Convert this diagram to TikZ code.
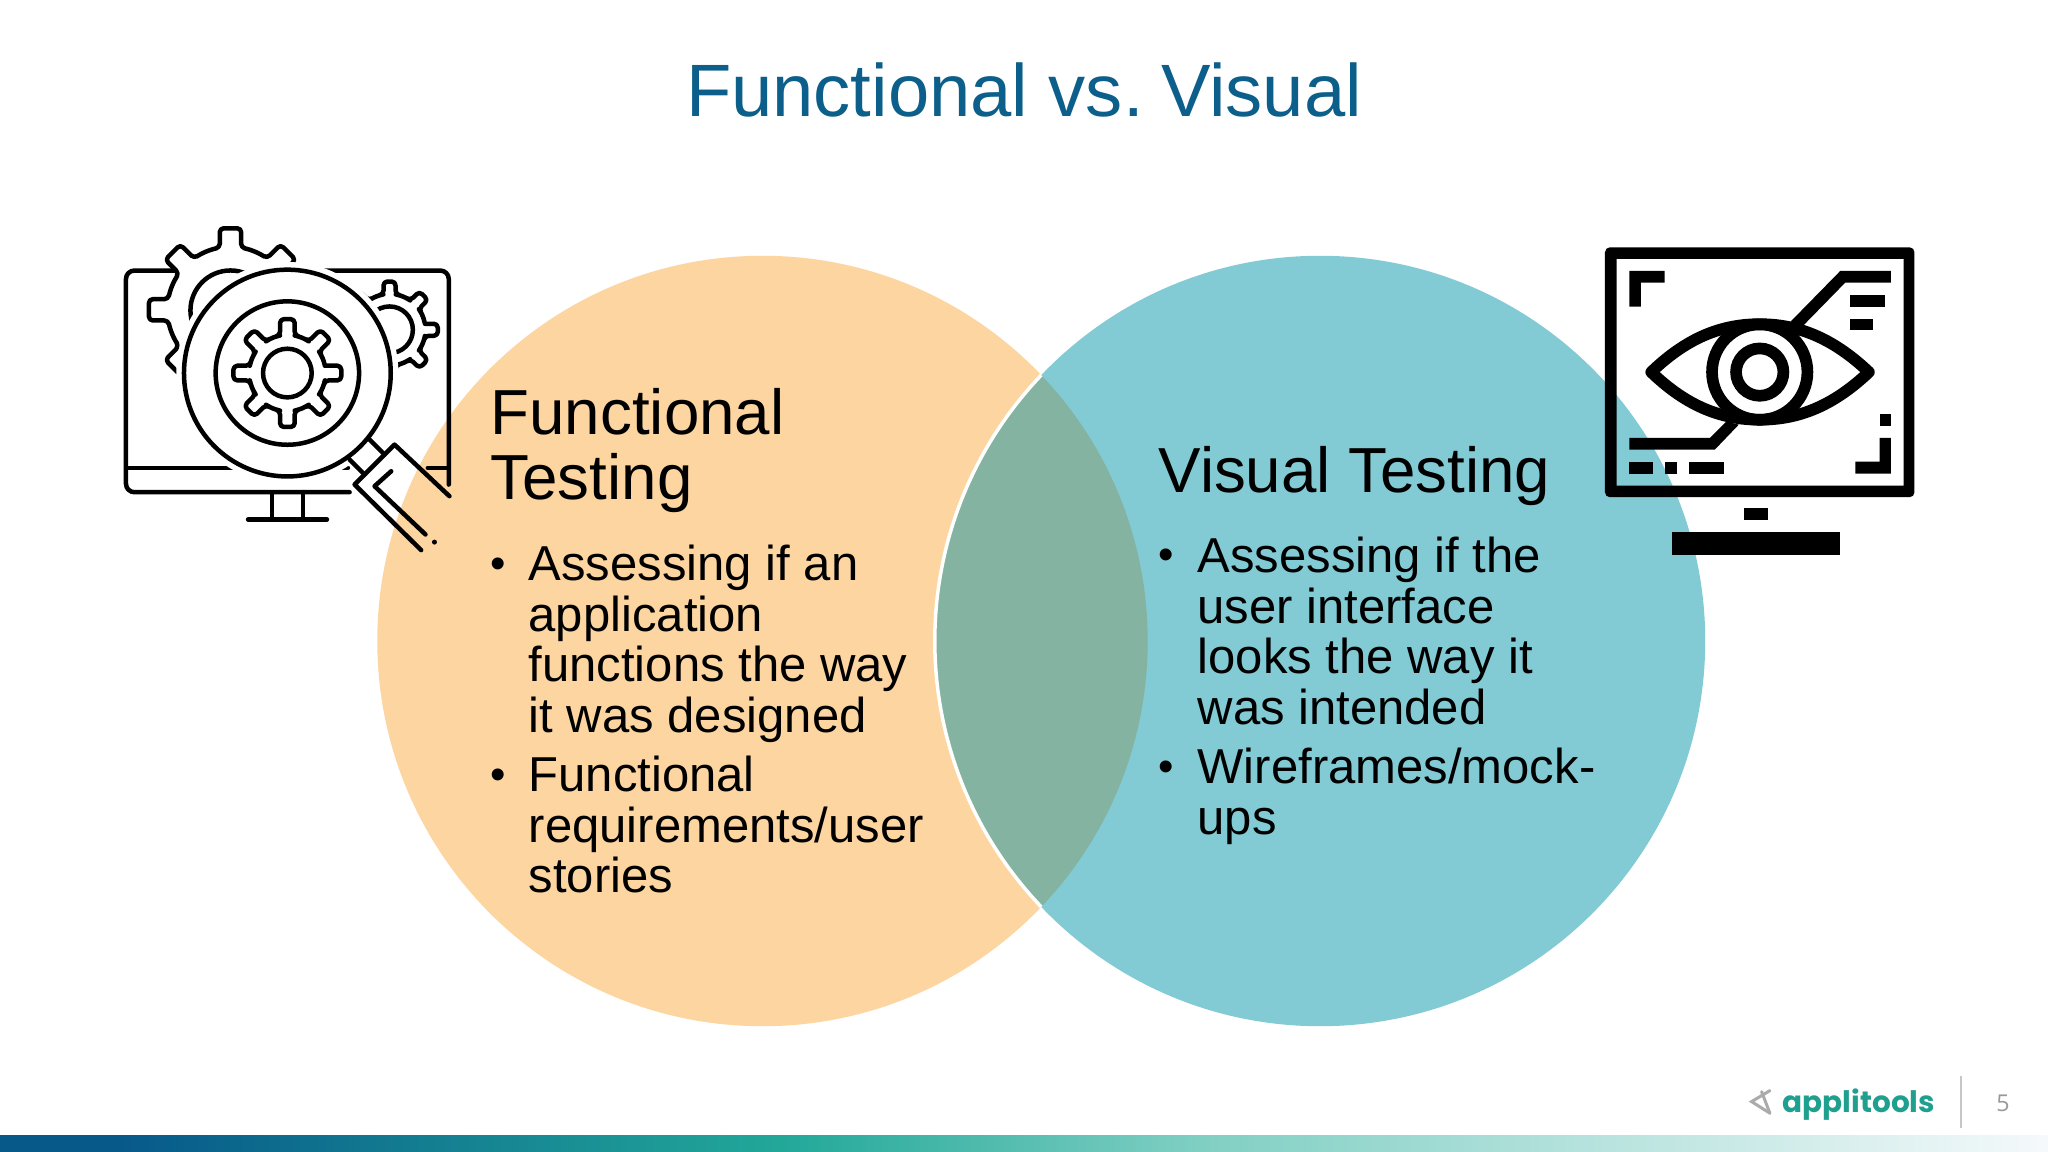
\documentclass[tikz,border=0pt]{standalone}
\usepackage{fontspec}
\setmainfont{Liberation Sans}
\newfontfamily\logofont{Poppins}
\newfontfamily\numfont{Open Sans}
\definecolor{titleblue}{HTML}{0B5F8A}
\definecolor{orangefill}{HTML}{FDD5A0}
\definecolor{tealfill}{HTML}{82CAD4}
\definecolor{overlapfill}{HTML}{84B4A1}
\definecolor{logoteal}{HTML}{1FA08F}
\definecolor{logogray}{HTML}{ABABAB}
\definecolor{bardark}{HTML}{07598A}
\definecolor{barteal}{HTML}{22A899}
\definecolor{barlight}{HTML}{80CFC3}
\definecolor{barend}{HTML}{F5F9FB}
\tikzset{
  declare function={gx(\c,\u,\v,\a)=\c+\u*cos(\a)-\v*sin(\a); gy(\c,\u,\v,\a)=\c+\u*sin(\a)+\v*cos(\a);},
  titletext/.style={font=\fontsize{21.1}{25}\selectfont,text=titleblue,inner sep=0pt},
  headtext/.style={font=\fontsize{18.1}{18.5}\selectfont,align=left,inner sep=0pt,anchor=north west,text=black},
  bodytext/.style={font=\fontsize{13.94}{14.45}\selectfont,align=left,inner sep=0pt,anchor=north west,text=black},
  dottext/.style={font=\fontsize{12.5}{13}\selectfont,inner sep=0pt,anchor=base,text=black},
  iconline/.style={line width=0.045cm,line cap=round,line join=round,draw=black},
  eyeline/.style={line width=0.1167cm,draw=black},
  zoomA/.style={shift={(100,200)},x=0.0033333cm,y=-0.0033333cm},
  zoomB/.style={shift={(1590,230)},x=0.0033333cm,y=-0.0033333cm},
  zoomC/.style={shift={(1700,1050)},x=0.0033333cm,y=-0.0033333cm},
}
% centre x, centre y, tooth radius, body radius, tooth half width
\newcommand{\gearshape}[5]{%
  \pgfmathsetmacro{\gub}{#4*sqrt(1-(#5/#4)*(#5/#4))}%
  \pgfmathsetmacro{\gth}{asin(#5/#4)}%
  \draw[iconline,fill=white,rounded corners=1.1pt]
    ({gx(#1,\gub,-#5,0)},{gy(#2,\gub,-#5,0)})
    \foreach \a in {0,45,...,315}{
      -- ({gx(#1,#3,-#5,\a)},{gy(#2,#3,-#5,\a)})
      -- ({gx(#1,#3,#5,\a)},{gy(#2,#3,#5,\a)})
      -- ({gx(#1,\gub,#5,\a)},{gy(#2,\gub,#5,\a)})
      \foreach \f in {0.25,0.5,0.75}{
        -- ({#1+#4*cos(\a+\gth+\f*(45-2*\gth))},{#2+#4*sin(\a+\gth+\f*(45-2*\gth))})
      }
      -- ({gx(#1,\gub,-#5,\a+45)},{gy(#2,\gub,-#5,\a+45)})
    };%
}
\begin{document}
\begin{tikzpicture}[x=0.01cm,y=-0.01cm]
\useasboundingbox (0,0) rectangle (2048,1152);
\fill[white] (0,0) rectangle (2048,1152);

% Venn circles
\fill[orangefill] (762.5,641) circle[radius=3.85cm];
\fill[tealfill] (1320,641) circle[radius=3.85cm];
\begin{scope}
  \clip (762.5,641) circle[radius=3.85cm];
  \fill[overlapfill] (1320,641) circle[radius=3.85cm];
  \draw[white,line width=0.035cm] (1320,641) circle[radius=3.85cm];
\end{scope}

% Title
\node[titletext] (title) at (1024,90) {Functional vs.\kern-0.9pt\ Visual};

% Left text
\node[headtext] (fhead) at (490,388) {Functional\\Testing};
\node[dottext] (fdota) at (498,578) {•};
\node[bodytext] (fbodya) at (528,544) {Assessing if an\\application\\functions the way\\it was designed};
\node[dottext] (fdotb) at (498,789) {•};
\node[bodytext] (fbodyb) at (528,755) {Functional\\requirements/user\\stories};

% Right text
\node[headtext] (vhead) at (1158,446) {Visual Testing};
\node[dottext] (vdota) at (1166,570) {•};
\node[bodytext] (vbodya) at (1197,536) {Assessing if the\\user interface\\looks the way it\\was intended};
\node[dottext] (vdotb) at (1166,781) {•};
\node[bodytext] (vbodyb) at (1197,747) {Wireframes/mock-\\ups};

% Left icon
\begin{scope}[zoomA]
  \draw[iconline,rounded corners=2.4pt] (750,878) -- (78,878) -- (78,212) -- (1048,212) -- (1048,855);
  \draw[iconline] (85,805) -- (745,805);
  \draw[iconline] (985,805) -- (1040,805);
  \draw[iconline] (517,880) -- (517,960);
  \draw[iconline] (610,880) -- (610,960);
  \draw[iconline] (445,960) -- (682,960);
  \gearshape{870}{390}{145}{108}{18}
  \draw[iconline] (870,390) circle[radius=0.2333cm];
  \gearshape{392}{330}{245}{190}{32}
  \draw[iconline] (392,332) circle[radius=0.4cm];
  \fill[white] (563,520) circle[radius=1.11cm];
  \draw[iconline] (563,520) circle[radius=1.0333cm];
  \draw[iconline] (563,520) circle[radius=0.7167cm];
  \gearshape{563}{520}{162}{115}{22}
  \draw[iconline] (563,520) circle[radius=0.2433cm];
  \draw[iconline] (810,720) -- (855,765);
  \draw[iconline] (750,780) -- (795,825);
  \draw[iconline] (1050,890) -- (885,735) -- (765,855) -- (965,1052);
  \draw[iconline] (875,815) -- (825,860) -- (978,1005);
  \fill[black] (1005,1028) circle[radius=0.025cm];
\end{scope}

% Right icon
\begin{scope}[zoomB]
  \fill[black,even odd rule,rounded corners=1.4pt] (45,52) rectangle (975,803) [sharp corners] (80,87) rectangle (942,768);
  \fill[black] (463,835) rectangle (535,872);
  \fill[black] (247,907) rectangle (750,978);
  \fill[black] (118,123) -- (224,123) -- (224,158) -- (153,158) -- (153,230) -- (118,230) -- cycle;
  \fill[black] (904,625) -- (904,732) -- (797,732) -- (797,696) -- (870,696) -- (870,625) -- cycle;
  \fill[black] (870,553) rectangle (904,589);
  \fill[black] (780,195) rectangle (886,230);
  \fill[black] (780,266) rectangle (851,301);
  \fill[black] (904,123) -- (752,123) -- (603,275) -- (640,288) -- (767,158) -- (904,158) -- cycle;
  \fill[black] (118,625) -- (360,625) -- (410,575) -- (447,585) -- (375,660) -- (118,660) -- cycle;
  \fill[black] (118,696) rectangle (188,732);
  \fill[black] (224,696) rectangle (260,732);
  \fill[black] (296,696) rectangle (403,732);
  \draw[eyeline,line join=round] (184,427) .. controls (295,320) and (400,283) .. (510,283)
     .. controls (620,283) and (725,320) .. (838,427)
     .. controls (725,534) and (620,570) .. (510,570)
     .. controls (400,570) and (295,534) .. (184,427) -- cycle;
  \draw[eyeline] (510,427) circle[radius=0.4767cm];
  \draw[eyeline] (510,427) circle[radius=0.2367cm];
\end{scope}

% Footer
\begin{scope}[zoomC]
  \draw[logogray,line width=0.03cm,line cap=round] (210,122) -- (155,155) -- (210,190);
  \draw[logogray,line width=0.03cm,line cap=round] (185,125) -- (210,190);
\end{scope}
\node[font=\logofont\bfseries\fontsize{8.4}{10}\selectfont,text=logoteal,inner sep=0pt,anchor=base west] (logo) at (1782,1112) {applitools};
\draw[black!22,line width=0.02cm] (1961,1076) -- (1961,1128);
\node[font=\numfont\fontsize{6.6}{8}\selectfont,text=black!40,inner sep=0pt] (pagenum) at (2003,1103) {5};
\fill[bardark] (0,1135) rectangle (120,1152);
\fill[left color=bardark,right color=barteal] (119,1135) rectangle (784,1152);
\fill[left color=barteal,right color=barlight] (783,1135) rectangle (1200,1152);
\fill[left color=barlight,right color=barend] (1199,1135) rectangle (2048,1152);
\end{tikzpicture}
\end{document}
